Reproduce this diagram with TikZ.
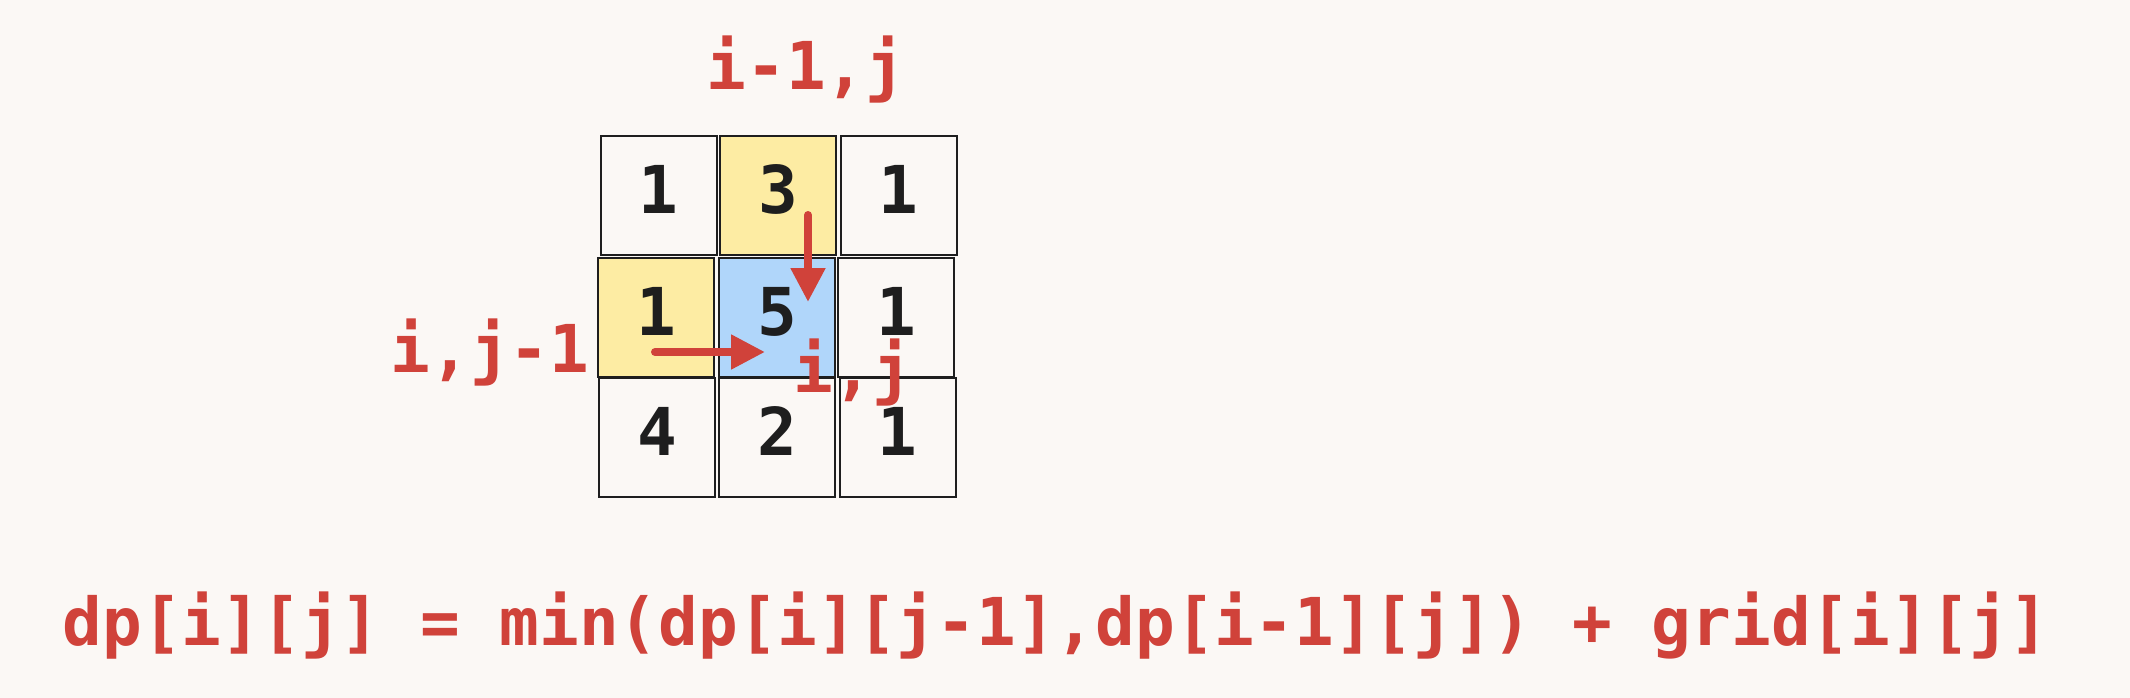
\documentclass[tikz,border=0pt]{standalone}
\usepackage{fontspec}
\usetikzlibrary{arrows.meta}
\newfontfamily\handfont{DejaVu Sans Mono}
\definecolor{bgc}{RGB}{251,248,245}
\definecolor{redc}{RGB}{208,66,58}
\definecolor{yelc}{RGB}{253,236,163}
\definecolor{bluc}{RGB}{176,214,250}
\definecolor{inkc}{RGB}{30,30,30}
\tikzset{
  cell/.style={draw=inkc, line width=2pt, minimum width=116pt, minimum height=119pt, inner sep=0pt,
    font=\handfont\bfseries\fontsize{66}{66}\selectfont, text=inkc, text height=36pt, text depth=0pt},
  lbl/.style={anchor=base, inner sep=0pt, text=redc, font=\handfont\bfseries\fontsize{66}{66}\selectfont},
  redarrow/.style={draw=redc, line width=8pt, line cap=round, -{Triangle[length=34pt,width=33pt,fill=redc]}}
}
\begin{document}
\begin{tikzpicture}[x=1pt,y=-1pt]
\fill[bgc] (0,0) rectangle (2130,698);
\useasboundingbox (0,0) rectangle (2130,698);
% row 1
\node[cell] (c11) at (658.5,195.5) {1};
\node[cell, fill=yelc] (c12) at (778,195.5) {3};
\node[cell] (c13) at (898.5,195.5) {1};
% row 2
\node[cell, fill=yelc] (c21) at (656,317.5) {1};
\node[cell, fill=bluc] (c22) at (777,317.5) {5};
\node[cell] (c23) at (896,317.5) {1};
% row 3
\node[cell] (c31) at (657,437.5) {4};
\node[cell] (c32) at (777,437.5) {2};
\node[cell] (c33) at (897.5,437.5) {1};
% labels
\node[lbl] (top) at (806,90) {i-1,j};
\node[lbl] (left) at (490,372) {i,j-1};
\node[lbl] (cur) at (853,392) {i,j};
\node[lbl] (formula) at (1056,645) {dp[i][j] = min(dp[i][j-1],dp[i-1][j]) + grid[i][j]};
% arrows
\coordinate (d1) at (808,215);
\coordinate (d2) at (808,302);
\coordinate (r1) at (655,352);
\coordinate (r2) at (765,352);
\draw[redarrow] (d1) -- (d2);
\draw[redarrow] (r1) -- (r2);
\end{tikzpicture}
\end{document}
